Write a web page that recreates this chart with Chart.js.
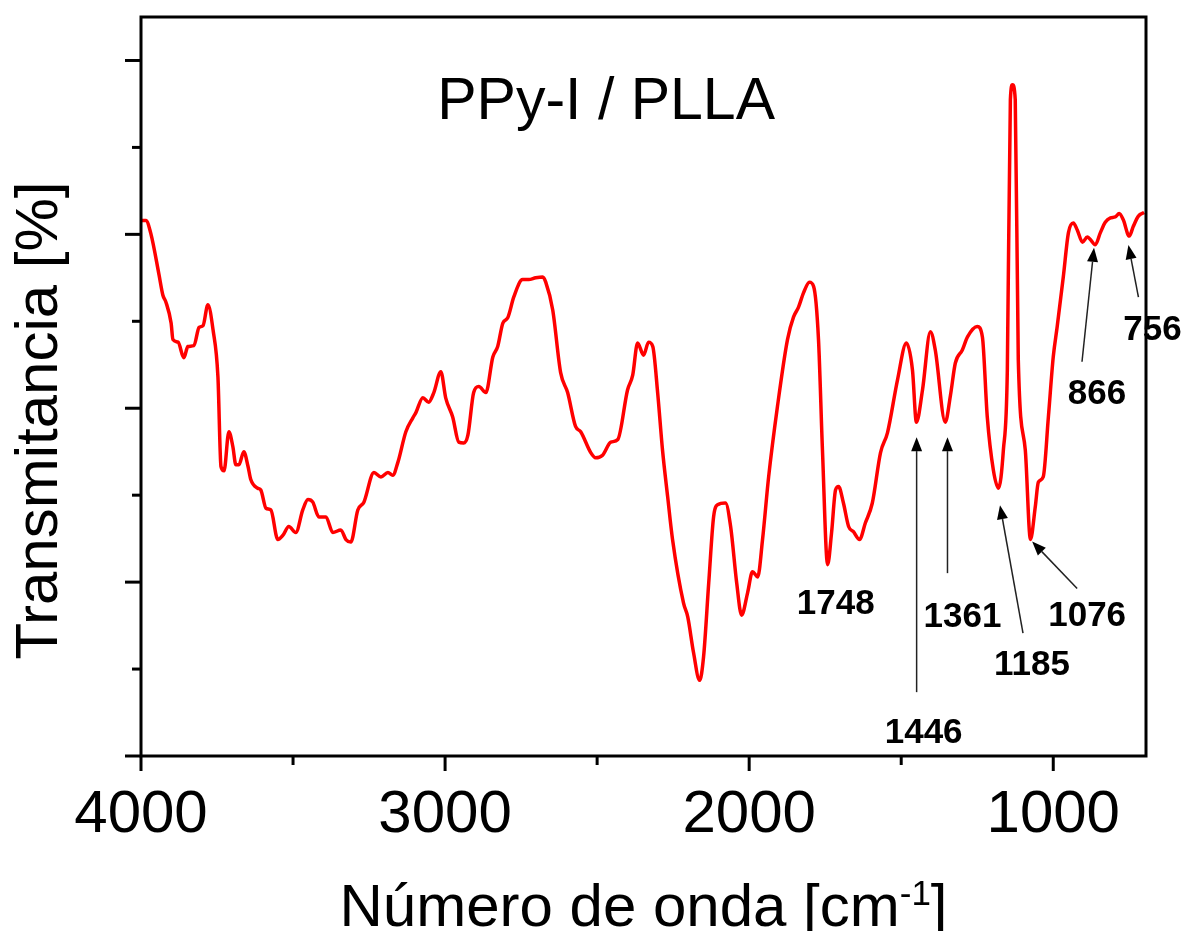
<!DOCTYPE html>
<html>
<head>
<meta charset="utf-8">
<script src="https://cdn.jsdelivr.net/npm/chart.js@4.4.1/dist/chart.umd.min.js"></script>
<style>
  html, body { margin: 0; padding: 0; background: #fff; }
  canvas { display: block; }
</style>
</head>
<body>
<canvas id="chart-ftir" width="1187" height="931"></canvas>
<script>
const wavenumber = [
  4000,3984,3967,3941,3928,3918,3901,3895,3878,3859,
  3846,3826,3809,3796,3780,3763,3747,3737,3727,3711,
  3698,3688,3678,3662,3648,3639,3616,3606,3589,3573,
  3550,3533,3514,3491,3468,3451,3435,3415,3392,3369,
  3343,3326,3310,3287,3267,3234,3211,3188,3172,3155,
  3129,3106,3096,3073,3054,3037,3014,2998,2975,2955,
  2939,2925,2906,2889,2866,2843,2827,2810,2794,2774,
  2745,2725,2702,2679,2669,2646,2620,2597,2571,2554,
  2521,2505,2482,2455,2432,2400,2383,2367,2347,2331,
  2317,2301,2285,2268,2252,2216,2202,2183,2163,2150,
  2133,2117,2104,2078,2061,2041,2025,2005,1989,1972,
  1956,1936,1907,1874,1854,1838,1821,1802,1788,1772,
  1759,1742,1729,1716,1706,1690,1673,1657,1637,1618,
  1595,1568,1545,1512,1483,1463,1450,1430,1404,1388,
  1355,1338,1322,1299,1282,1250,1233,1217,1197,1180,
  1164,1151,1141,1134,1125,1115,1092,1075,1059,1049,
  1033,1016,1000,987,967,950,934,921,904,888,
  878,862,845,829,812,796,783,770,750,737,
  720,701
];
const transmittance = [
  6.16,6.16,6.00,5.54,5.30,5.22,4.98,4.79,4.76,4.58,
  4.71,4.72,4.93,4.95,5.19,4.90,4.36,3.33,3.28,3.73,
  3.56,3.35,3.35,3.50,3.33,3.18,3.08,3.06,2.85,2.83,
  2.49,2.54,2.64,2.57,2.83,2.95,2.92,2.75,2.75,2.57,
  2.60,2.49,2.46,2.83,2.92,3.26,3.21,3.26,3.23,3.38,
  3.73,3.89,3.95,4.12,4.07,4.18,4.42,4.12,3.90,3.61,
  3.60,3.69,4.18,4.25,4.18,4.59,4.71,4.98,5.04,5.28,
  5.48,5.48,5.50,5.51,5.45,5.13,4.41,4.18,3.79,3.73,
  3.49,3.43,3.46,3.61,3.64,4.21,4.38,4.75,4.61,4.76,
  4.71,4.18,3.52,2.98,2.49,1.76,1.60,1.19,0.87,1.14,
  1.99,2.75,2.89,2.91,2.64,1.99,1.62,1.88,2.12,2.06,
  2.49,3.21,4.02,4.79,5.05,5.16,5.33,5.45,5.40,4.79,
  3.52,2.20,2.57,3.06,3.10,2.91,2.64,2.58,2.49,2.68,
  2.91,3.49,3.72,4.33,4.75,4.44,3.84,4.21,4.88,4.67,
  3.84,4.15,4.52,4.67,4.82,4.94,4.82,3.90,3.29,3.08,
  3.52,4.44,7.55,7.72,7.55,4.56,3.52,2.49,2.87,3.15,
  3.21,3.90,4.59,4.94,5.51,6.02,6.13,6.05,5.91,5.97,
  5.94,5.88,6.02,6.14,6.19,6.20,6.24,6.17,5.98,6.09,
  6.21,6.25
];
const peakLabels = [1748, 1446, 1361, 1185, 1076, 866, 756];
const xTickLabels = [4000, 3000, 2000, 1000];
const xMinorTicks = [3500, 2500, 1500];
const yTicks = [0, 1, 2, 3, 4, 5, 6, 7, 8];

const FONT = "'Liberation Sans', Arial, sans-serif";

// px offsets from (peak x, curve y): arrow tip, arrow tail, label centre
const peakOffsets = [
  { text: [10, 40] },
  { tip: [-1, 15], tail: [-1, 270], text: [6, 311] },
  { tip: [4, 15], tail: [4, 151], text: [19, 195] },
  { tip: [3, 17], tail: [26, 145], text: [35, 177] },
  { tip: [2, 2], tail: [47, 49], text: [57, 77] },
  { tip: [0, 3], tail: [-12, 117], text: [3, 150] },
  { tip: [1, 9], tail: [11, 61], text: [25, 94] },
];

function drawArrow(ctx, x0, y0, x1, y1) {
  const ang = Math.atan2(y1 - y0, x1 - x0);
  const len = 14, half = 5.5;
  const bx = x1 - len * Math.cos(ang), by = y1 - len * Math.sin(ang);
  ctx.beginPath();
  ctx.moveTo(x0, y0);
  ctx.lineTo(bx, by);
  ctx.lineWidth = 1.5;
  ctx.strokeStyle = '#222';
  ctx.stroke();
  ctx.beginPath();
  ctx.moveTo(x1, y1);
  ctx.lineTo(bx + half * Math.sin(ang), by - half * Math.cos(ang));
  ctx.lineTo(bx - half * Math.sin(ang), by + half * Math.cos(ang));
  ctx.closePath();
  ctx.fillStyle = '#000';
  ctx.fill();
}

const framePlugin = {
  id: 'frame',
  afterDatasetsDraw(chart) {
    const ctx = chart.ctx;
    const a = chart.chartArea;
    const x = chart.scales.x, y = chart.scales.y;
    ctx.save();

    // peak labels and arrows
    peakLabels.forEach((p, i) => {
      let k = 0;
      wavenumber.forEach((w, j) => {
        if (Math.abs(w - p) < Math.abs(wavenumber[k] - p)) k = j;
      });
      const px = x.getPixelForValue(p);
      const py = y.getPixelForValue(transmittance[k]);
      const o = peakOffsets[i];
      if (o.tip) drawArrow(ctx, px + o.tail[0], py + o.tail[1], px + o.tip[0], py + o.tip[1]);
      ctx.font = 'bold 35px ' + FONT;
      ctx.fillStyle = '#000';
      ctx.textAlign = 'center';
      ctx.textBaseline = 'middle';
      ctx.fillText(String(p), px + o.text[0], py + o.text[1]);
    });

    // tick marks
    ctx.strokeStyle = '#000';
    ctx.lineWidth = 3;
    x.ticks.forEach(t => {
      const len = xTickLabels.includes(t.value) ? 15 : 9;
      const px = x.getPixelForValue(t.value);
      ctx.beginPath();
      ctx.moveTo(px, a.bottom);
      ctx.lineTo(px, a.bottom + len);
      ctx.stroke();
    });
    y.ticks.forEach(t => {
      const len = t.value % 2 === 0 ? 16 : 9;
      const py = y.getPixelForValue(t.value);
      ctx.beginPath();
      ctx.moveTo(a.left - len, py);
      ctx.lineTo(a.left, py);
      ctx.stroke();
    });
    ctx.strokeRect(a.left, a.top, a.right - a.left, a.bottom - a.top);

    // sample name
    ctx.fillStyle = '#000';
    ctx.font = '59px ' + FONT;
    ctx.textAlign = 'right';
    ctx.textBaseline = 'alphabetic';
    ctx.fillText('PPy-I / PLLA', a.left + 634, a.top + 102);

    // y title
    ctx.save();
    ctx.translate(a.left - 84, (a.top + a.bottom) / 2 + 34);
    ctx.rotate(-Math.PI / 2);
    ctx.textAlign = 'center';
    ctx.font = '60px ' + FONT;
    ctx.fillText('Transmitancia [%]', 0, 0);
    ctx.restore();

    // x title with superscript
    const main = 'Número de onda [cm', sup = '-1', end = ']';
    ctx.font = '60px ' + FONT;
    const wMain = ctx.measureText(main).width, wEnd = ctx.measureText(end).width;
    ctx.font = '35px ' + FONT;
    const wSup = ctx.measureText(sup).width;
    const base = a.bottom + 170;
    let tx = (a.left + a.right) / 2 - (wMain + wSup + wEnd) / 2;
    ctx.textAlign = 'left';
    ctx.font = '60px ' + FONT;
    ctx.fillText(main, tx, base);
    tx += wMain;
    ctx.font = '35px ' + FONT;
    ctx.fillText(sup, tx, base - 21);
    tx += wSup;
    ctx.font = '60px ' + FONT;
    ctx.fillText(end, tx, base);

    ctx.restore();
  }
};

const ftir = new Chart(document.getElementById('chart-ftir'), {
  type: 'line',
  data: {
    datasets: [{
      label: 'PPy-I / PLLA',
      data: wavenumber.map((w, i) => ({ x: w, y: transmittance[i] })),
      borderColor: '#ff0000',
      borderWidth: 3.5,
      pointRadius: 0,
      fill: false,
      cubicInterpolationMode: 'monotone',
    }]
  },
  options: {
    responsive: false,
    animation: false,
    layout: {
      padding: { top: 17, right: 41, left: 0, bottom: 0 }
    },
    scales: {
      x: {
        type: 'linear',
        reverse: true,
        min: 695,
        max: 4000,
        grid: { display: false },
        border: { display: false },
        afterBuildTicks: (s) => {
          s.ticks = xTickLabels.concat(xMinorTicks)
            .sort((p, q) => q - p)
            .map(v => ({ value: v }));
        },
        ticks: {
          autoSkip: false,
          maxRotation: 0,
          padding: 21,
          color: '#000',
          font: { family: FONT, size: 60, lineHeight: 1 },
          callback: (v) => xTickLabels.includes(v) ? String(v) : '',
        },
        afterFit: (s) => { s.height = 175; },
      },
      y: {
        min: 0,
        max: 8.5,
        grid: { display: false },
        border: { display: false },
        afterBuildTicks: (s) => { s.ticks = yTicks.map(v => ({ value: v })); },
        ticks: { display: false },
        afterFit: (s) => { s.width = 141; },
      }
    },
    plugins: {
      legend: { display: false },
      tooltip: { enabled: false },
    },
  },
  plugins: [framePlugin]
});
</script>
</body>
</html>
